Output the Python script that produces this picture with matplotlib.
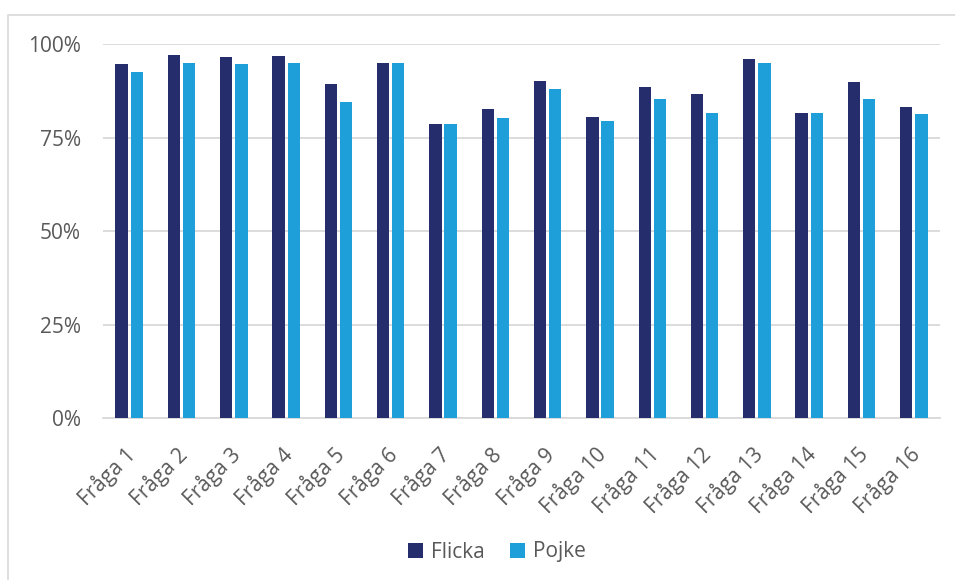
import matplotlib.pyplot as plt
import matplotlib.patches as mpatches
import matplotlib.transforms as mtransforms
import numpy as np
from matplotlib.ticker import PercentFormatter

questions = [f'Fråga {i}' for i in range(1, 17)]
flicka = [94.8, 97.1, 96.7, 96.8, 89.3, 94.9, 78.6, 82.7,
          90.3, 80.5, 88.6, 86.7, 96.1, 81.5, 90.0, 83.3]
pojke = [92.5, 94.9, 94.7, 95.1, 84.6, 94.9, 78.7, 80.3,
         88.0, 79.5, 85.4, 81.5, 94.9, 81.7, 85.4, 81.3]

dark = '#262D6D'
light = '#1F9FDA'
grey_text = '#595959'
grid_col = '#D9D9D9'

plt.rcParams['font.family'] = ['Open Sans', 'DejaVu Sans']

fig = plt.figure(figsize=(9.55, 5.8), dpi=100)
ax = fig.add_axes([103 / 955, 1 - 418 / 580, 837 / 955, (418 - 44.3) / 580])

x = np.arange(len(questions))
w = 0.235
off = 0.145
ax.bar(x - off, flicka, w, color=dark, label='Flicka', zorder=3)
ax.bar(x + off, pojke, w, color=light, label='Pojke', zorder=3)

ax.set_xlim(-0.5, len(questions) - 0.5)
ax.set_ylim(0, 100)
ax.set_yticks([0, 25, 50, 75, 100])
ax.yaxis.set_major_formatter(PercentFormatter(decimals=0))
ax.grid(axis='y', color=grid_col, linewidth=1.3, zorder=0)
for s in ['top', 'right', 'left']:
    ax.spines[s].set_visible(False)
ax.spines['bottom'].set_color(grid_col)
ax.spines['bottom'].set_linewidth(1.3)

ax.set_xticks(x)
ax.set_xticklabels(questions, rotation=45, ha='right', rotation_mode='anchor')
ax.tick_params(axis='x', length=0, pad=18, labelsize=15, labelcolor=grey_text)
ax.tick_params(axis='y', length=0, pad=16, labelsize=15, labelcolor=grey_text)
# nudge rotated labels a little to the left
shift = mtransforms.ScaledTranslation(-5 / 100, 0, fig.dpi_scale_trans)
for lbl in ax.get_xticklabels():
    lbl.set_transform(lbl.get_transform() + shift)

fig.legend(loc='center', bbox_to_anchor=(497 / 955, 1 - 552 / 580), ncol=2,
           frameon=False, fontsize=15, labelcolor=grey_text,
           handlelength=0.7, handleheight=0.7, handletextpad=0.4,
           columnspacing=1.2)

# outer chart border (cropped at right and bottom)
fig.patches.append(mpatches.Rectangle((8 / 955, -0.1), 1.2, 1 - 15 / 580 + 0.1,
                                      transform=fig.transFigure, fill=False,
                                      edgecolor='#D9D9D9', linewidth=1.2))

fig.savefig('out.png', dpi=100)
